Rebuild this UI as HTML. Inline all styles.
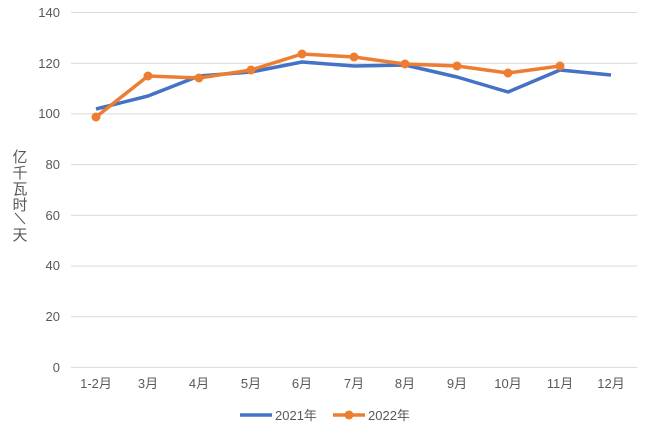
<!DOCTYPE html>
<html><head><meta charset="utf-8"><style>
html,body{margin:0;padding:0;background:#fff;}
text{font-family:"Liberation Sans","Noto Sans CJK SC",sans-serif;fill:#595959;}
</style></head><body>
<svg width="658" height="426" viewBox="0 0 658 426" xmlns="http://www.w3.org/2000/svg">
<g stroke="#d9d9d9" stroke-width="1">
<line x1="71" x2="637" y1="12.5" y2="12.5"/>
<line x1="71" x2="637" y1="63.2" y2="63.2"/>
<line x1="71" x2="637" y1="113.9" y2="113.9"/>
<line x1="71" x2="637" y1="164.6" y2="164.6"/>
<line x1="71" x2="637" y1="215.3" y2="215.3"/>
<line x1="71" x2="637" y1="266" y2="266"/>
<line x1="71" x2="637" y1="316.7" y2="316.7"/>
<line x1="71" x2="637" y1="367.4" y2="367.4"/>
</g>
<g font-size="13" text-anchor="end">
<text x="60" y="17">140</text><text x="60" y="68">120</text><text x="60" y="118">100</text>
<text x="60" y="169">80</text><text x="60" y="220">60</text><text x="60" y="270">40</text>
<text x="60" y="321">20</text><text x="60" y="372">0</text>
</g>
<g font-size="13" text-anchor="middle">
<text x="96" y="388">1-2月</text><text x="148" y="388">3月</text><text x="199" y="388">4月</text>
<text x="251" y="388">5月</text><text x="302" y="388">6月</text><text x="354" y="388">7月</text>
<text x="405" y="388">8月</text><text x="457" y="388">9月</text><text x="508" y="388">10月</text>
<text x="560" y="388">11月</text><text x="611" y="388">12月</text>
</g>
<g font-size="15" text-anchor="middle">
<text x="20" y="162">亿</text><text x="20" y="178">千</text><text x="20" y="194">瓦</text>
<text x="20" y="210">时</text><text x="20" y="240">天</text>
</g>
<line x1="15" y1="213" x2="25" y2="224" stroke="#595959" stroke-width="1"/>
<polyline fill="none" stroke="#4472c4" stroke-width="3.5" stroke-linejoin="round"
points="96,109 148,96 199,76 251,72 302,62 354,66 405,65 457,77 508,92 560,70 611,75"/>
<polyline fill="none" stroke="#ed7d31" stroke-width="3.5" stroke-linejoin="round"
points="96,117 148,76 199,78 251,70 302,54 354,57 405,64 457,66 508,73 560,66"/>
<g fill="#ed7d31">
<circle cx="96" cy="117" r="4.5"/><circle cx="148" cy="76" r="4.5"/><circle cx="199" cy="78" r="4.5"/>
<circle cx="251" cy="70" r="4.5"/><circle cx="302" cy="54" r="4.5"/><circle cx="354" cy="57" r="4.5"/>
<circle cx="405" cy="64" r="4.5"/><circle cx="457" cy="66" r="4.5"/><circle cx="508" cy="73" r="4.5"/>
<circle cx="560" cy="66" r="4.5"/>
</g>
<line x1="240" x2="272" y1="415" y2="415" stroke="#4472c4" stroke-width="3.5"/>
<text x="275" y="420" font-size="13">2021年</text>
<line x1="333" x2="365" y1="415" y2="415" stroke="#ed7d31" stroke-width="3.5"/>
<circle cx="349" cy="415" r="4.5" fill="#ed7d31"/>
<text x="368" y="420" font-size="13">2022年</text>
</svg>
</body></html>
